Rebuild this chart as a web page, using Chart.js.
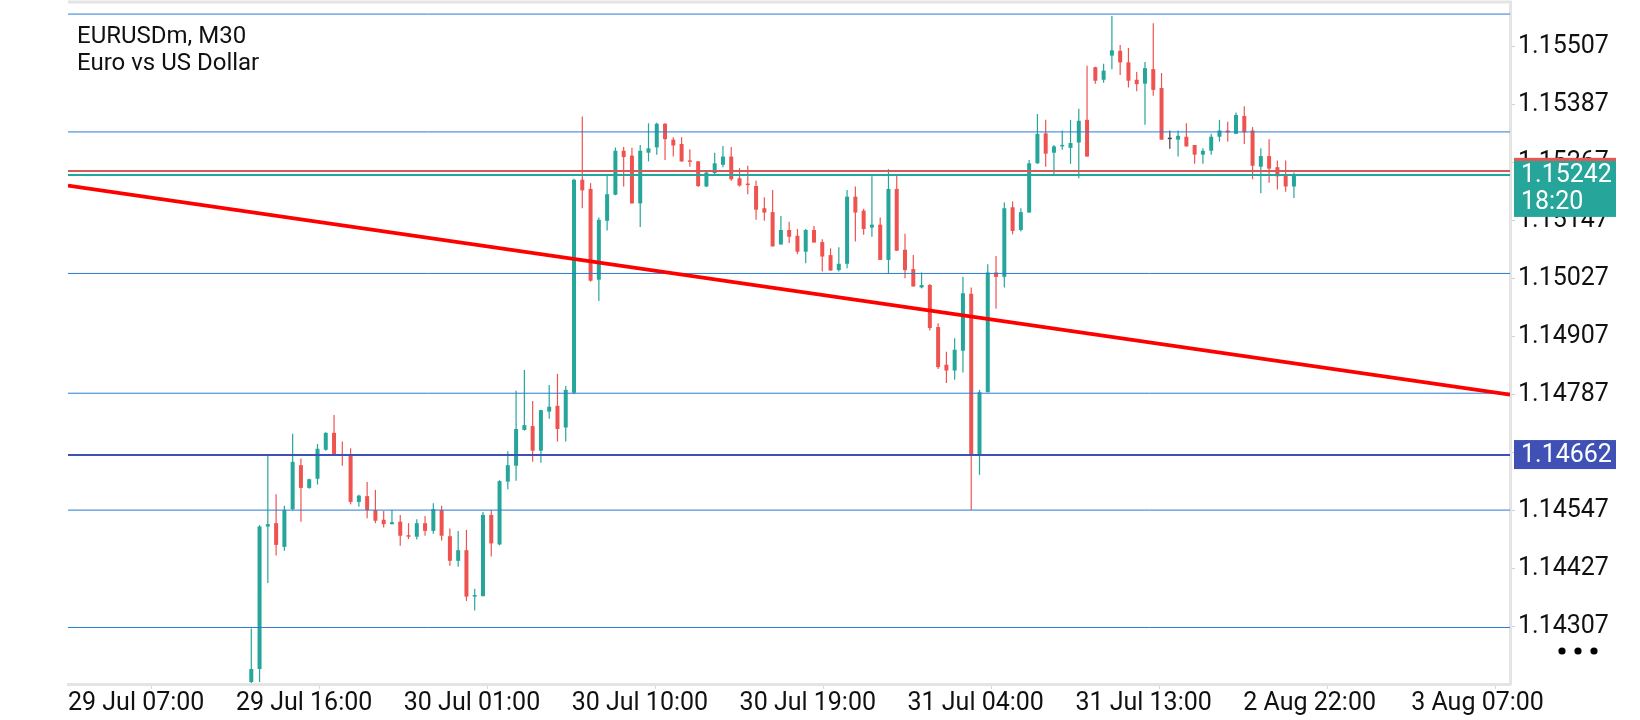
<!DOCTYPE html>
<html>
<head>
<meta charset="utf-8">
<script src="https://cdn.jsdelivr.net/npm/chart.js@4.4.1/dist/chart.umd.min.js"></script>
<style>
html,body{margin:0;padding:0;background:#ffffff;}
#wrap{position:relative;width:1640px;height:720px;}
</style>
</head>
<body>
<div id="wrap"><canvas id="c"></canvas></div>
<script>
// ---------- DATA ----------
const symbolTitle = 'EURUSDm, M30';
const symbolName = 'Euro vs US Dollar';

const openP = [
1.14192,1.14219,1.14514,1.14521,1.14472,1.14550,1.14641,1.14594,1.14613,1.14673,
1.14708,1.14664,1.14662,1.14565,1.14577,1.14548,1.14528,1.14519,1.14524,1.14496,
1.14493,1.14521,1.14505,1.14548,1.14494,1.14443,1.14465,1.14369,1.14370,1.14538,
1.14477,1.14607,1.14640,1.14714,1.14722,1.14671,1.14752,1.14764,1.14719,1.14791,
1.15232,1.15213,1.15025,1.15147,1.15201,1.15292,1.15282,1.15183,1.15288,1.15299,
1.15348,1.15315,1.15306,1.15271,1.15270,1.15218,1.15246,1.15263,1.15280,1.15235,
1.15223,1.15219,1.15173,1.15165,1.15098,1.15128,1.15116,1.15083,1.15128,1.15103,
1.15076,1.15045,1.15058,1.15197,1.15168,1.15133,1.15139,1.15066,1.15213,1.15087,
1.15047,1.15009,1.15014,1.14927,1.14849,1.14837,1.14878,1.14996,1.14662,1.14792,
1.15040,1.15031,1.15175,1.15128,1.15164,1.15266,1.15328,1.15288,1.15301,1.15298,
1.15309,1.15356,1.15465,1.15439,1.15489,1.15499,1.15475,1.15439,1.15431,1.15461,
1.15422,1.15316,1.15315,1.15321,1.15304,1.15284,1.15292,1.15321,1.15334,1.15327,
1.15364,1.15334,1.15259,1.15281,1.15258,1.15240,1.15218
];
const highP = [
1.14303,1.14517,1.14660,1.14581,1.14557,1.14706,1.14655,1.14613,1.14685,1.14709,
1.14745,1.14690,1.14676,1.14580,1.14606,1.14590,1.14546,1.14548,1.14538,1.14521,
1.14529,1.14536,1.14562,1.14557,1.14510,1.14505,1.14507,1.14385,1.14544,1.14548,
1.14610,1.14670,1.14795,1.14838,1.14774,1.14756,1.14807,1.14830,1.14805,1.15234,
1.15363,1.15225,1.15154,1.15244,1.15299,1.15300,1.15298,1.15304,1.15349,1.15350,
1.15349,1.15320,1.15320,1.15295,1.15271,1.15249,1.15288,1.15302,1.15300,1.15256,
1.15261,1.15230,1.15196,1.15211,1.15157,1.15145,1.15130,1.15130,1.15136,1.15109,
1.15090,1.15092,1.15211,1.15218,1.15172,1.15239,1.15154,1.15254,1.15244,1.15120,
1.15076,1.15040,1.15016,1.14935,1.14876,1.14904,1.15031,1.15009,1.14797,1.15057,
1.15074,1.15185,1.15187,1.15173,1.15273,1.15368,1.15356,1.15304,1.15334,1.15356,
1.15379,1.15468,1.15466,1.15472,1.15571,1.15511,1.15505,1.15455,1.15476,1.15556,
1.15453,1.15334,1.15334,1.15349,1.15304,1.15297,1.15327,1.15356,1.15352,1.15371,
1.15384,1.15341,1.15297,1.15316,1.15272,1.15272,1.15247
];
const lowP = [
1.14190,1.14192,1.14397,1.14454,1.14464,1.14547,1.14524,1.14592,1.14601,1.14671,
1.14663,1.14640,1.14560,1.14555,1.14531,1.14521,1.14512,1.14518,1.14474,1.14488,
1.14487,1.14495,1.14499,1.14485,1.14433,1.14431,1.14360,1.14340,1.14369,1.14452,
1.14475,1.14591,1.14609,1.14713,1.14648,1.14646,1.14737,1.14690,1.14690,1.14788,
1.15173,1.15021,1.14981,1.15127,1.15200,1.15218,1.15183,1.15134,1.15270,1.15284,
1.15273,1.15280,1.15269,1.15259,1.15217,1.15217,1.15244,1.15258,1.15230,1.15218,
1.15202,1.15149,1.15147,1.15094,1.15098,1.15101,1.15078,1.15059,1.15102,1.15042,
1.15044,1.15042,1.15049,1.15104,1.15118,1.15114,1.15066,1.15039,1.15085,1.15028,
1.15011,1.15007,1.14920,1.14840,1.14811,1.14818,1.14833,1.14548,1.14621,1.14792,
1.14965,1.15009,1.15119,1.15125,1.15164,1.15265,1.15259,1.15242,1.15294,1.15265,
1.15235,1.15280,1.15431,1.15433,1.15461,1.15449,1.15423,1.15415,1.15346,1.15406,
1.15315,1.15296,1.15280,1.15301,1.15265,1.15265,1.15284,1.15311,1.15311,1.15327,
1.15306,1.15233,1.15204,1.15226,1.15212,1.15207,1.15194
];
const closeP = [
1.14219,1.14514,1.14519,1.14476,1.14548,1.14648,1.14594,1.14612,1.14675,1.14708,
1.14664,1.14660,1.14565,1.14578,1.14548,1.14526,1.14519,1.14523,1.14495,1.14493,
1.14521,1.14505,1.14550,1.14495,1.14443,1.14465,1.14369,1.14372,1.14538,1.14479,
1.14608,1.14641,1.14716,1.14724,1.14671,1.14755,1.14762,1.14716,1.14797,1.15232,
1.15210,1.15023,1.15149,1.15202,1.15292,1.15279,1.15183,1.15292,1.15297,1.15348,
1.15316,1.15303,1.15270,1.15269,1.15219,1.15247,1.15266,1.15280,1.15233,1.15220,
1.15221,1.15170,1.15164,1.15094,1.15128,1.15114,1.15083,1.15128,1.15102,1.15073,
1.15044,1.15058,1.15197,1.15164,1.15130,1.15139,1.15066,1.15213,1.15085,1.15045,
1.15011,1.15014,1.14925,1.14844,1.14837,1.14880,1.14997,1.14662,1.14792,1.15040,
1.15031,1.15173,1.15126,1.15165,1.15266,1.15327,1.15286,1.15301,1.15304,1.15308,
1.15354,1.15280,1.15437,1.15458,1.15500,1.15475,1.15437,1.15430,1.15463,1.15418,
1.15315,1.15316,1.15323,1.15301,1.15284,1.15292,1.15321,1.15334,1.15330,1.15366,
1.15330,1.15261,1.15281,1.15255,1.15239,1.15218,1.15242
];

const xTickLabels = ['29 Jul 07:00','29 Jul 16:00','30 Jul 01:00','30 Jul 10:00','30 Jul 19:00','31 Jul 04:00','31 Jul 13:00','2 Aug 22:00','3 Aug 07:00'];
const yTickValues = [1.14307,1.14427,1.14547,1.14667,1.14787,1.14907,1.15027,1.15147,1.15267,1.15387,1.15507];

const levelLines = [1.15575,1.15331,1.15038,1.14790,1.14548,1.14305];
const keyLevel = 1.14662;
const askPrice = 1.15250;
const bidPrice = 1.15242;
const candleTimer = '18:20';
// trend line anchors: [candle index, price]
const trendStart = [-22.15, 1.15220];
const trendEnd = [152.11, 1.14787];

// ---------- VIEW ----------
const xMin = -22.15, xMax = 152.11, xTickStep = 20.29;
const yMin = 1.14188, yMax = 1.15600;

const UP = '#26a69a', DOWN = '#ef5350', FLAT = '#444444';
const candleColor = openP.map((o, i) => closeP[i] > o ? UP : (closeP[i] < o ? DOWN : FLAT));
const wickData = openP.map((o, i) => ({x: i, y: [lowP[i], highP[i]]}));
const bodyData = openP.map((o, i) => ({x: i, y: [o, closeP[i]]}));

const hLine = (v, color, w, order) => ({
  type: 'line', data: [{x: xMin, y: v}, {x: xMax, y: v}],
  borderColor: color, borderWidth: w, pointRadius: 0, fill: false, tension: 0, order
});

const datasets = [
  {type: 'bar', data: wickData, backgroundColor: candleColor, barThickness: 1.2, grouped: false, inflateAmount: 0, order: 10},
  {type: 'bar', data: bodyData, backgroundColor: candleColor, barThickness: 4, minBarLength: 1.5, grouped: false, inflateAmount: 0, order: 9},
];
levelLines.forEach(v => datasets.push(hLine(v, '#2a7bd0', 1, 5)));
datasets.push(hLine(keyLevel, '#3f51b5', 2, 4));
datasets.push(hLine(askPrice, '#d65a58', 2, 3));
datasets.push(hLine(bidPrice, '#26a69a', 2, 3));
datasets.push({type: 'line', data: [{x: trendStart[0], y: trendStart[1]}, {x: trendEnd[0], y: trendEnd[1]}],
  borderColor: '#ff0000', borderWidth: 3.8, pointRadius: 0, fill: false, tension: 0, order: 1});

const overlay = {
  id: 'overlay',
  afterDraw(chart) {
    const {ctx, chartArea: a, scales: {y}} = chart;
    ctx.save();
    // top frame line
    ctx.strokeStyle = '#e4e4e4'; ctx.lineWidth = 3;
    ctx.beginPath(); ctx.moveTo(a.left, a.top); ctx.lineTo(a.right + 1.5, a.top); ctx.stroke();
    // symbol text
    ctx.fillStyle = '#111'; ctx.font = '24px Roboto'; ctx.textBaseline = 'alphabetic'; ctx.textAlign = 'left';
    ctx.fillText(symbolTitle, a.left + 9, 43);
    ctx.fillText(symbolName, a.left + 9, 70);
    // current price tag
    const bx = a.right + 4, bw = 102;
    const yb = y.getPixelForValue(bidPrice);
    ctx.fillStyle = '#26a69a'; ctx.fillRect(bx, yb - 17, bw, 59);
    ctx.fillStyle = '#ef5350'; ctx.fillRect(bx, yb - 17, bw, 3);
    ctx.fillStyle = '#ffffff'; ctx.font = '25px Roboto'; ctx.textBaseline = 'middle';
    ctx.fillText(bidPrice.toFixed(5), bx + 7, yb + 1);
    ctx.fillText(candleTimer, bx + 7, yb + 28);
    // key level tag
    const yk = y.getPixelForValue(keyLevel);
    ctx.fillStyle = '#3f51b5'; ctx.fillRect(bx, yk - 15, bw, 29);
    ctx.fillStyle = '#ffffff'; ctx.fillText(keyLevel.toFixed(5), bx + 7, yk + 1);
    // menu dots
    ctx.fillStyle = '#000';
    [1562, 1578, 1594].forEach(cx => { ctx.beginPath(); ctx.arc(cx, 651, 3.6, 0, Math.PI * 2); ctx.fill(); });
    ctx.restore();
  }
};

Chart.defaults.font.family = 'Roboto';
new Chart(document.getElementById('c'), {
  type: 'bar',
  data: {datasets},
  options: {
    responsive: true, maintainAspectRatio: false, animation: false, events: [],
    layout: {padding: {left: 68, top: 2, right: 0, bottom: 0}},
    plugins: {legend: {display: false}, tooltip: {enabled: false}, title: {display: false}},
    scales: {
      x: {
        type: 'linear', position: 'bottom', min: xMin, max: xMax, offset: false,
        grid: {display: true, drawOnChartArea: false, drawTicks: true, tickLength: 5, color: '#d8d8d8'},
        border: {display: true, color: '#e4e4e4', width: 3},
        afterBuildTicks: s => { s.ticks = xTickLabels.map((_, k) => ({value: xMin + k * xTickStep})); },
        ticks: {autoSkip: false, maxRotation: 0, minRotation: 0, align: 'start', padding: 0,
          color: '#111', font: {size: 25, family: 'Roboto'},
          callback: (v, k) => xTickLabels[k]},
        afterFit: s => { s.height = 36; s.paddingLeft = 0; }
      },
      y: {
        type: 'linear', position: 'right', min: yMin, max: yMax,
        grid: {display: true, drawOnChartArea: false, drawTicks: true, tickLength: 5, color: '#d0d0d0'},
        border: {display: true, color: '#e4e4e4', width: 3},
        afterBuildTicks: s => { s.ticks = yTickValues.map(v => ({value: v})); },
        ticks: {padding: 3, color: '#111', font: {size: 25, family: 'Roboto'},
          callback: v => Number(v).toFixed(5)},
        afterFit: s => { s.width = 130; s.paddingTop = 0; s.paddingBottom = 0; }
      }
    }
  },
  plugins: [overlay]
});
</script>
</body>
</html>
